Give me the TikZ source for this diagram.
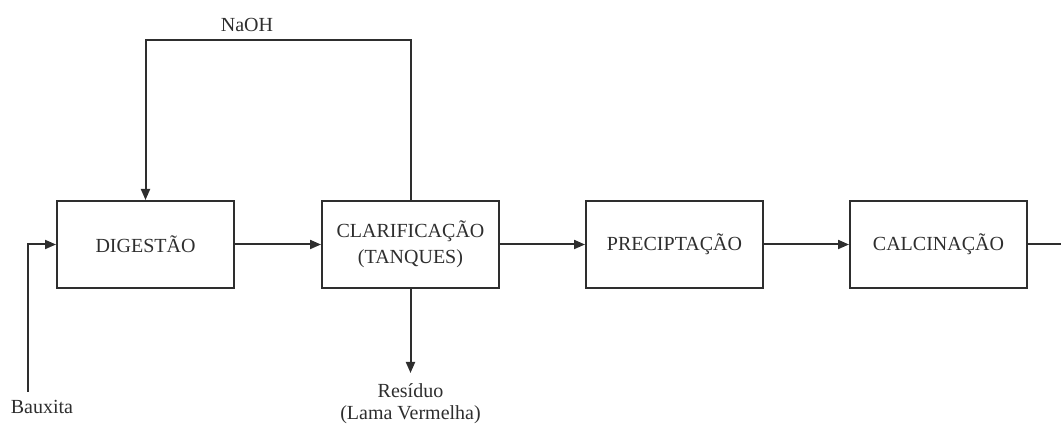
\documentclass[tikz,border=0pt]{standalone}
\usepackage{fontspec}
\setmainfont{Liberation Serif}
\usetikzlibrary{arrows.meta}
\definecolor{ink}{HTML}{2E2E2E}
\begin{document}
\begin{tikzpicture}[x=1pt,y=1pt,
  every node/.style={font=\fontsize{20}{26}\selectfont, text=ink},
  proc/.style={draw=ink, line width=2pt, minimum width=177pt, minimum height=87pt, inner sep=0pt, align=center},
  conn/.style={draw=ink, line width=2pt},
  arr/.style={conn, -{Triangle[length=11pt,width=9pt]}}]
\useasboundingbox (0,0) rectangle (1061,-427);
\node[proc] (dig) at (145.5,-244.5) {DIGESTÃO};
\node[proc] (cla) at (410.5,-244.5) {CLARIFICAÇÃO\\(TANQUES)};
\node[proc] (pre) at (674.5,-244.5) {PRECIPTAÇÃO};
\node[proc] (cal) at (938.5,-244.5) {CALCINAÇÃO};
\node (baux) at (42,-407) {Bauxita};
\coordinate (bstart) at (28,-392);
\node (naoh) at (247,-25) {NaOH};
\coordinate (top) at (0,-40);
\coordinate (resend) at (410.5,-373);
\node[align=center, font=\fontsize{20}{22}\selectfont] (res) at (410.5,-404) {Resíduo\\(Lama Vermelha)};
\coordinate (rend) at (1061,-244.5);
\draw[arr] (bstart) |- (dig.west);
\draw[arr] (dig.east) -- (cla.west);
\draw[arr] (cla.east) -- (pre.west);
\draw[arr] (pre.east) -- (cal.west);
\draw[conn] (cal.east) -- (rend);
\draw[arr] (cla.north) |- (top -| dig.north) -- (dig.north);
\draw[arr] (cla.south) -- (resend);
\end{tikzpicture}
\end{document}
